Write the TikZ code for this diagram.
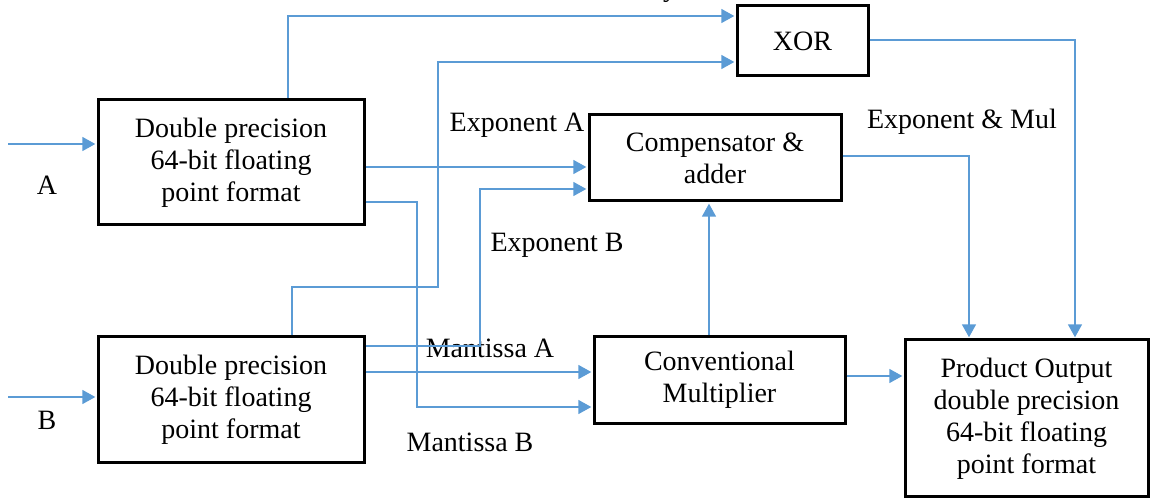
\documentclass[tikz,border=0pt]{standalone}
\usepackage{fontspec}
\setmainfont{Liberation Serif}
\usetikzlibrary{arrows.meta,calc}
\definecolor{lineblue}{HTML}{5B9BD5}
\begin{document}
\begin{tikzpicture}[x=0.5pt,y=-0.5pt,
  blk/.style={draw=black,line width=1.5pt,inner sep=0pt,align=center,
    font=\fontsize{14}{16}\selectfont},
  lbl/.style={inner sep=0pt,font=\fontsize{14}{16}\selectfont},
  wire/.style={draw=lineblue,line width=0.8pt},
  arr/.style={wire,-{Triangle[length=6.5pt,width=7pt]},shorten >=0.6pt}]
\useasboundingbox (0,0) rectangle (1153,501);

% blocks
\node[blk,minimum width=133pt,minimum height=62.5pt] (A) at (231,162.5)
  {Double precision\\64-bit floating\\point format};
\node[blk,minimum width=133pt,minimum height=63pt] (B) at (231,400)
  {Double precision\\64-bit floating\\point format};
\node[blk,minimum width=65.5pt,minimum height=35pt] (X) at (802.5,41) {XOR};
\node[blk,minimum width=126pt,minimum height=43pt] (C) at (715,158)
  {Compensator \&\\adder};
\node[blk,minimum width=125.5pt,minimum height=43.5pt] (M) at (719.5,380)
  {Conventional\\Multiplier};
\node[blk,minimum width=121.5pt,minimum height=78.5pt] (P) at (1026.5,418.5)
  {Product Output\\double precision\\64-bit floating\\point format};

% labels
\node[lbl] (lA) at (47,185) {A};
\node[lbl] (lB) at (47,420) {B};
\node[lbl] (lEA) at (517,125) {Exponent A};
\node[lbl] (lEB) at (557,245) {Exponent B};
\node[lbl] (lMA) at (490,348) {Mantissa A};
\node[lbl] (lMB) at (470,442) {Mantissa B};
\node[lbl] (lEM) at (962,122) {Exponent \& Mul};
\node[lbl,anchor=base] (lY) at (670,-3) {y};

% coordinates
\coordinate (inA) at (8,144);
\coordinate (inB) at (8,397);
\coordinate (s1) at (288,16);
\coordinate (s2a) at (292,287);
\coordinate (s2b) at (438,287);
\coordinate (s2c) at (438,62);
\coordinate (ea) at (400,167);
\coordinate (mb1) at (417,202);
\coordinate (mb2) at (417,407);
\coordinate (eb1) at (480,346);
\coordinate (eb2) at (480,189);
\coordinate (ma) at (500,372);
\coordinate (up) at (709,300);
\coordinate (mp) at (870,376);
\coordinate (ce1) at (900,156);
\coordinate (ce2) at (969,156);
\coordinate (xe1) at (900,40);
\coordinate (xe2) at (1075,40);

% connectors
\draw[arr] (inA) -- (inA -| A.west);
\draw[arr] (inB) -- (inB -| B.west);
\draw[arr] (A.north -| s1) -- (s1) -- (s1 -| X.west);
\draw[arr] (B.north -| s2a) -- (s2a) -- (s2b) -- (s2c) -- (s2c -| X.west);
\draw[arr] (A.east |- ea) -- (ea -| C.west);
\draw[arr] (A.east |- mb1) -- (mb1) -- (mb2) -- (mb2 -| M.west);
\draw[arr] (B.east |- eb1) -- (eb1) -- (eb2) -- (eb2 -| C.west);
\draw[arr] (B.east |- ma) -- (ma -| M.west);
\draw[arr] (M.north -| up) -- (C.south -| up);
\draw[arr] (M.east |- mp) -- (mp -| P.west);
\draw[arr] (C.east |- ce1) -- (ce2) -- (ce2 |- P.north);
\draw[arr] (X.east |- xe1) -- (xe2) -- (xe2 |- P.north);
\end{tikzpicture}
\end{document}
